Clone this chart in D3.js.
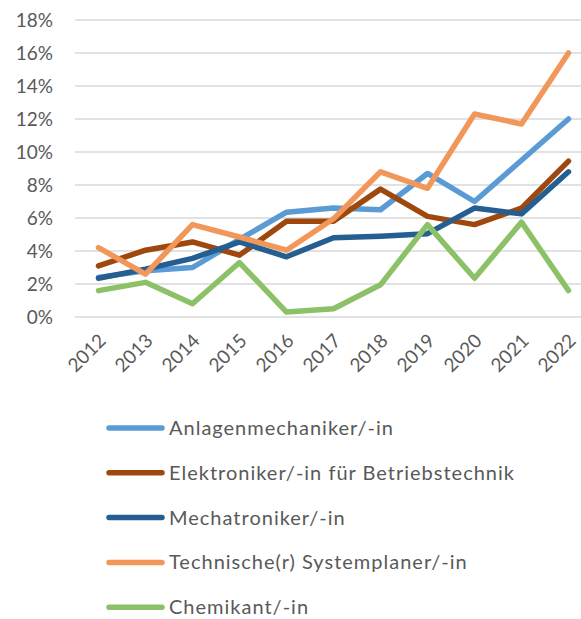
<!DOCTYPE html>
<html lang="de">
<head>
<meta charset="utf-8">
<title>Linien</title>
<script src="https://cdn.jsdelivr.net/npm/d3@7"></script>
<style>
  body { margin: 0; background: #fff; }
  svg { display: block; }
  text { font-family: Lato, "Noto Sans", sans-serif; fill: #595959; }
</style>
</head>
<body>
<svg id="chart" width="581" height="619"></svg>
<script>
// data (shares in %)
var years = ["2012","2013","2014","2015","2016","2017","2018","2019","2020","2021","2022"];
var yTicks = [0, 2, 4, 6, 8, 10, 12, 14, 16, 18];

var anlagen     = [2.4, 2.8, 3.0, 4.7, 6.35, 6.6, 6.5, 8.7, 7.0, 9.5, 12.0];
var elektronik  = [3.1, 4.05, 4.55, 3.75, 5.8, 5.8, 7.75, 6.1, 5.6, 6.6, 9.45];
var mechatronik = [2.35, 2.9, 3.55, 4.55, 3.65, 4.8, 4.9, 5.05, 6.6, 6.25, 8.8];
var systemplan  = [4.2, 2.6, 5.6, 4.85, 4.05, 5.95, 8.8, 7.8, 12.3, 11.7, 16.0];
var chemikant   = [1.6, 2.1, 0.8, 3.3, 0.3, 0.5, 1.95, 5.6, 2.35, 5.75, 1.6];

var seriesNames = ["Anlagenmechaniker/-in", "Elektroniker/-in für Betriebstechnik",
                   "Mechatroniker/-in", "Technische(r) Systemplaner/-in", "Chemikant/-in"];
var seriesColors = ["#5B9BD5", "#9E480E", "#255E91", "#F1975A", "#8CC168"];
var seriesValues = [anlagen, elektronik, mechatronik, systemplan, chemikant];

var svg = d3.select("#chart");

var x = d3.scalePoint().domain(years).range([75, 592]).padding(0.5);
var y = d3.scaleLinear().domain([0, 18]).range([317, 20]);

// gridlines
svg.append("g")
  .selectAll("line")
  .data(yTicks)
  .enter().append("line")
  .attr("x1", 75).attr("x2", 592)
  .attr("y1", function(d) { return y(d); })
  .attr("y2", function(d) { return y(d); })
  .attr("stroke", "#D9D9D9")
  .attr("stroke-width", 1.3);

// y axis labels
var yAxis = d3.axisLeft(y).tickValues(yTicks).tickSize(0).tickPadding(0)
  .tickFormat(function(d) { return d + "%"; });
var gy = svg.append("g").attr("transform", "translate(53,0)").call(yAxis);
gy.select(".domain").remove();
gy.selectAll("text").attr("fill", "#595959").style("font-size", "19px")
  .style("font-family", "Lato, 'Noto Sans', sans-serif");

// x axis labels, rotated
var xAxis = d3.axisBottom(x).tickSize(0).tickPadding(0);
var gx = svg.append("g").attr("transform", "translate(0,317)").call(xAxis);
gx.select(".domain").remove();
gx.selectAll("text")
  .attr("fill", "#595959")
  .style("font-size", "19px")
  .style("font-family", "Lato, 'Noto Sans', sans-serif")
  .attr("text-anchor", "end")
  .attr("dy", null)
  .attr("y", 0)
  .attr("transform", "translate(8,25) rotate(-45)");

// lines
var line = d3.line()
  .x(function(d, i) { return x(years[i]); })
  .y(function(d) { return y(d); });

svg.append("g")
  .selectAll("path")
  .data(seriesValues)
  .enter().append("path")
  .attr("d", line)
  .attr("fill", "none")
  .attr("stroke", function(d, i) { return seriesColors[i]; })
  .attr("stroke-width", 5.5)
  .attr("stroke-linejoin", "round")
  .attr("stroke-linecap", "round");

// legend
var lg = svg.append("g")
  .selectAll("g")
  .data(seriesNames)
  .enter().append("g")
  .attr("transform", function(d, i) { return "translate(0," + (428 + i * 44.8) + ")"; });

lg.append("line")
  .attr("x1", 109).attr("x2", 162)
  .attr("stroke", function(d, i) { return seriesColors[i]; })
  .attr("stroke-width", 5.5)
  .attr("stroke-linecap", "round");

lg.append("text")
  .attr("x", 169)
  .attr("dy", "0.35em")
  .style("font-size", "20px")
  .style("letter-spacing", "1px")
  .text(function(d) { return d; });
</script>
</body>
</html>
